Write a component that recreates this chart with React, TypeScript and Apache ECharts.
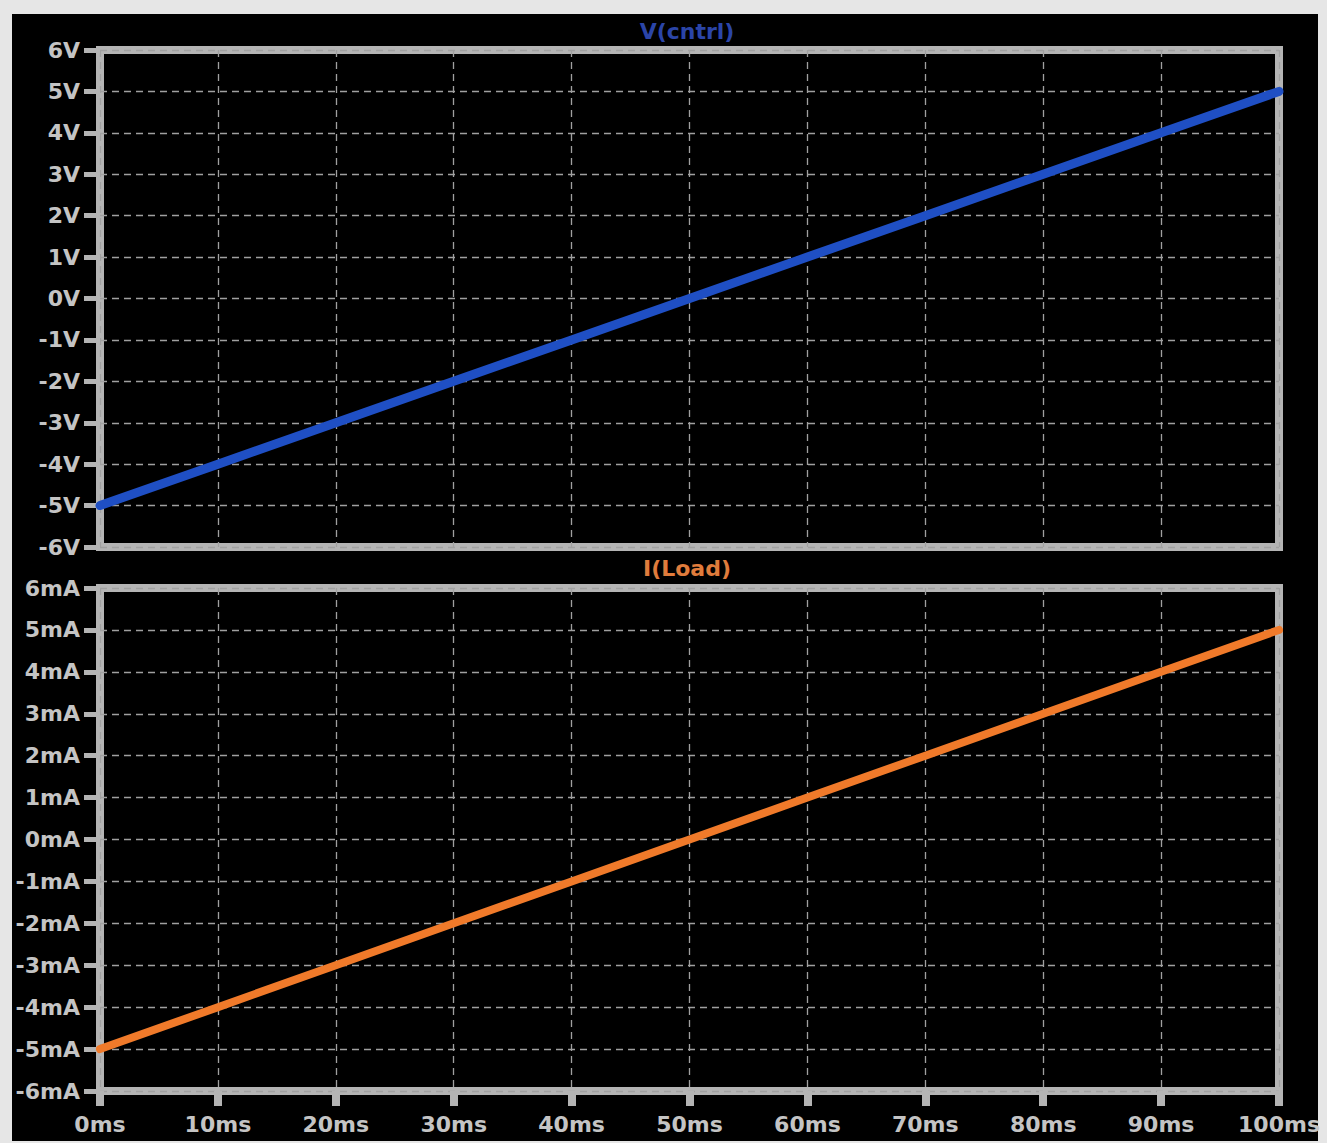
import React, { useEffect, useRef } from "react";
import * as echarts from "echarts";

const timeMs = [0, 10, 20, 30, 40, 50, 60, 70, 80, 90, 100];
const vCntrl = [-5, -4, -3, -2, -1, 0, 1, 2, 3, 4, 5];
const iLoad = [-5, -4, -3, -2, -1, 0, 1, 2, 3, 4, 5];
const titles = ["V(cntrl)", "I(Load)"];

const FRAME = "#b4b4b4";
const LABEL = "#c4c4c4";
const GRIDLINE = "#a0a0a0";
const FONT = "DejaVu Sans";

export default function App() {
  const ref = useRef<HTMLDivElement>(null);
  useEffect(() => {
    document.body.style.margin = "0";
    const chart = echarts.init(ref.current!, null, { renderer: "svg" });
    const labelStyle = {
      color: LABEL,
      fontFamily: FONT,
      fontWeight: "bold" as const,
      fontSize: 22,
    };
    const split = {
      show: true,
      lineStyle: { color: GRIDLINE, width: 1.3, type: [7, 5] as any },
    };
    const yAxisBase = (fmt: (v: number) => string, gi: number) => ({
      type: "value" as const,
      gridIndex: gi,
      min: -6,
      max: 6,
      interval: 1,
      axisLine: { show: false, onZero: false },
      axisTick: { show: true, length: 16, lineStyle: { color: FRAME, width: 5 } },
      axisLabel: { ...labelStyle, margin: 20, formatter: fmt },
      splitLine: split,
    });
    chart.setOption({
      animation: false,
      backgroundColor: "#e6e6e6",
      graphic: [
        {
          type: "rect",
          shape: { x: 12, y: 14, width: 1306, height: 1127 },
          style: { fill: "#000000" },
          z: -10,
        },
        {
          type: "text",
          x: 687,
          y: 31,
          style: {
            text: titles[0],
            fill: "#2b45a8",
            font: `bold 22px "${FONT}"`,
            align: "center",
            verticalAlign: "middle",
          },
        },
        {
          type: "text",
          x: 687,
          y: 568,
          style: {
            text: titles[1],
            fill: "#e07c3c",
            font: `bold 22px "${FONT}"`,
            align: "center",
            verticalAlign: "middle",
          },
        },
      ],
      grid: [
        {
          left: 100,
          top: 50,
          width: 1179,
          height: 497,
          show: true,
          borderColor: FRAME,
          borderWidth: 8,
          backgroundColor: "transparent",
        },
        {
          left: 100,
          top: 588,
          width: 1179,
          height: 503,
          show: true,
          borderColor: FRAME,
          borderWidth: 8,
          backgroundColor: "transparent",
        },
      ],
      xAxis: [
        {
          type: "value",
          gridIndex: 0,
          min: 0,
          max: 100,
          interval: 10,
          axisLine: { show: false, onZero: false },
          axisTick: { show: false },
          axisLabel: { show: false },
          splitLine: split,
        },
        {
          type: "value",
          gridIndex: 1,
          min: 0,
          max: 100,
          interval: 10,
          axisLine: { show: false, onZero: false },
          axisTick: { show: true, length: 15, lineStyle: { color: FRAME, width: 8 } },
          axisLabel: { ...labelStyle, margin: 22, formatter: (v: number) => `${v}ms` },
          splitLine: split,
        },
      ],
      yAxis: [
        yAxisBase((v) => `${v}V`, 0),
        yAxisBase((v) => `${v}mA`, 1),
      ],
      series: [
        {
          type: "line",
          xAxisIndex: 0,
          yAxisIndex: 0,
          data: timeMs.map((t, i) => [t, vCntrl[i]]),
          showSymbol: false,
          clip: false,
          lineStyle: { color: "#1f4fc4", width: 9, cap: "round" },
        },
        {
          type: "line",
          xAxisIndex: 1,
          yAxisIndex: 1,
          data: timeMs.map((t, i) => [t, iLoad[i]]),
          showSymbol: false,
          clip: false,
          lineStyle: { color: "#f07a2a", width: 8, cap: "round" },
        },
      ],
    });
    return () => chart.dispose();
  }, []);
  return <div ref={ref} style={{ width: 1327, height: 1143 }} />;
}
